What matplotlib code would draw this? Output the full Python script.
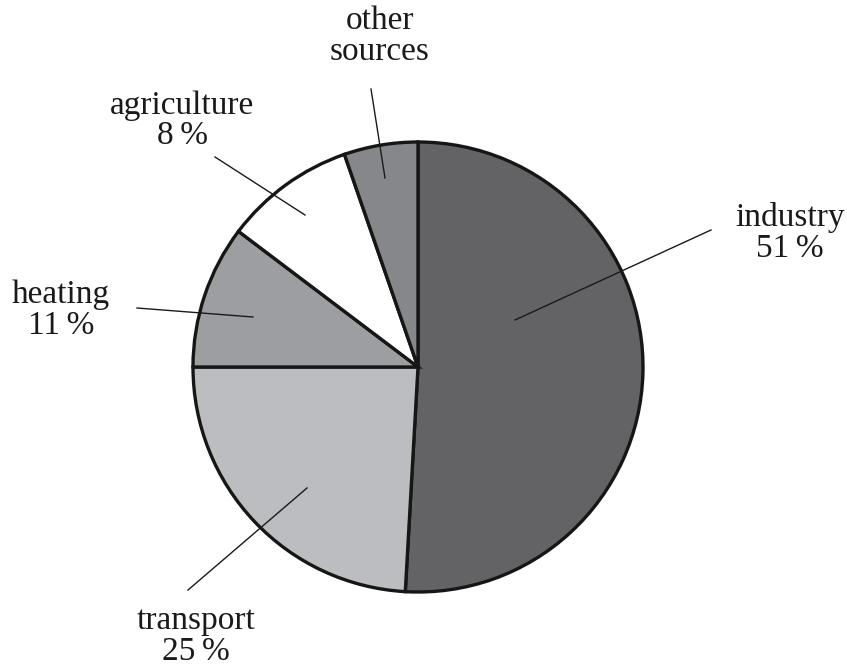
import matplotlib
matplotlib.use("Agg")
import matplotlib.pyplot as plt
import numpy as np

categories = ["industry", "transport", "heating", "agriculture", "other sources"]
# slice shares as drawn in the picture (labels show the rounded published figures)
values = [50.9, 24.1, 10.3, 9.4, 5.3]
labels = ["industry\n51\u2009%", "transport\n25\u2009%", "heating\n11\u2009%",
          "agriculture\n8\u2009%", "other\nsources"]
colors = ["#636365", "#bcbdc0", "#9d9ea1", "#ffffff", "#86878a"]

W, H = 847, 666
fig = plt.figure(figsize=(W / 100, H / 100), dpi=100)
ax = fig.add_axes([0, 0, 1, 1])

cx, cy, R = 418, H - 367, 225
ax.pie(values, colors=colors, startangle=90, counterclock=False,
       center=(cx, cy), radius=R,
       wedgeprops=dict(edgecolor="#161616", linewidth=2.4))
ax.set_xlim(0, W)
ax.set_ylim(0, H)
ax.set_aspect("equal")
ax.axis("off")

# label placement: text centre (px, y-down), leader start (px, y-down), leader end (px, y-down)
text_pos = [(790, 233), (196, 636), (61, 310), (182, 121), (380, 36)]
line_start = [(711, 230), (188, 590), (137, 308), (215, 157), (371, 89)]
line_end = [(515, 320), (307, 488), (253, 317), (305, 215), (385, 178)]

font = dict(family=["Liberation Serif", "DejaVu Serif"], size=24)
for lab, tp, ls, le in zip(labels, text_pos, line_start, line_end):
    ax.text(tp[0], H - tp[1], lab, ha="center", va="center",
            linespacing=1.0, color="#1a1a1a", **font)
    ax.plot([ls[0], le[0]], [H - ls[1], H - le[1]], color="#1a1a1a", lw=1.0)

fig.savefig("out.png", dpi=100, facecolor="white")
